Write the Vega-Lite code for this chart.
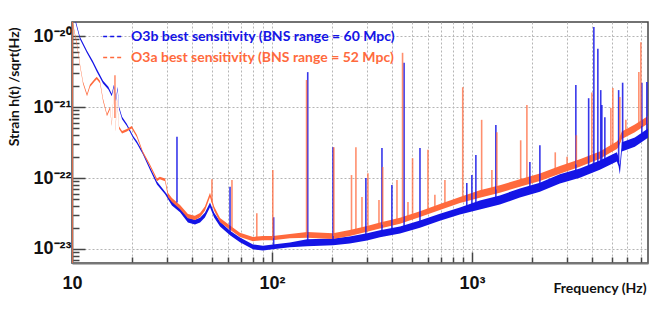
{
  "$schema": "https://vega.github.io/schema/vega-lite/v6.json",
  "width": 576,
  "height": 241,
  "autosize": {"type": "none"},
  "padding": {"left": 72, "top": 22, "right": 17, "bottom": 48},
  "background": "white",
  "config": {
    "view": {"stroke": "#444", "strokeWidth": 1.5},
    "axis": {"labelFont": "Liberation Sans", "labelFontWeight": "bold", "labelFontSize": 18, "labelColor": "#111", "titleFont": "Lato", "titleFontWeight": "bold", "titleFontSize": 14, "titleColor": "#111", "domainColor": "#777", "domainWidth": 2, "tickColor": "#444", "tickWidth": 1.5, "gridColor": "#b5b5b5", "gridDash": [2, 2], "gridWidth": 1, "labelFlush": false, "labelOverlap": false}
  },
  "datasets": {
    "floor": [
      {"run": "O3b", "f": 10.2, "lo": 1.92e-20, "hi": 2.08e-20},
      {"run": "O3b", "f": 10.96, "lo": 9.0e-21, "hi": 9.8e-21},
      {"run": "O3b", "f": 11.89, "lo": 5.7e-21, "hi": 6.2e-21},
      {"run": "O3b", "f": 12.7, "lo": 4.1e-21, "hi": 4.5e-21},
      {"run": "O3b", "f": 13.3, "lo": 3.15e-21, "hi": 3.45e-21},
      {"run": "O3b", "f": 14.3, "lo": 2.15e-21, "hi": 2.35e-21},
      {"run": "O3b", "f": 15.2, "lo": 1.77e-21, "hi": 1.93e-21},
      {"run": "O3b", "f": 15.8, "lo": 1.42e-21, "hi": 1.54e-21},
      {"run": "O3b", "f": 16.2, "lo": 1.9e-21, "hi": 2.06e-21},
      {"run": "O3b", "f": 16.6, "lo": 1.21e-21, "hi": 1.31e-21},
      {"run": "O3b", "f": 16.9, "lo": 1.77e-21, "hi": 1.93e-21},
      {"run": "O3b", "f": 17.2, "lo": 9.3e-22, "hi": 1.01e-21},
      {"run": "O3b", "f": 17.8, "lo": 6.7e-22, "hi": 7.3e-22},
      {"run": "O3b", "f": 18.8, "lo": 5.4e-22, "hi": 5.8e-22},
      {"run": "O3b", "f": 20.2, "lo": 3.65e-22, "hi": 3.95e-22},
      {"run": "O3b", "f": 21.1, "lo": 3.07e-22, "hi": 3.33e-22},
      {"run": "O3b", "f": 22.6, "lo": 2.16e-22, "hi": 2.34e-22},
      {"run": "O3b", "f": 24.5, "lo": 1.32e-22, "hi": 1.44e-22},
      {"run": "O3b", "f": 26.6, "lo": 8.1e-23, "hi": 8.9e-23},
      {"run": "O3b", "f": 29.2, "lo": 5.9e-23, "hi": 6.4e-23},
      {"run": "O3b", "f": 31.6, "lo": 4.1e-23, "hi": 4.8e-23},
      {"run": "O3b", "f": 34.7, "lo": 3.28e-23, "hi": 3.82e-23},
      {"run": "O3b", "f": 38.0, "lo": 2.37e-23, "hi": 2.76e-23},
      {"run": "O3b", "f": 41.2, "lo": 2.22e-23, "hi": 2.59e-23},
      {"run": "O3b", "f": 43.7, "lo": 2.37e-23, "hi": 2.76e-23},
      {"run": "O3b", "f": 46.2, "lo": 2.78e-23, "hi": 3.24e-23},
      {"run": "O3b", "f": 49.0, "lo": 3.86e-23, "hi": 4.5e-23},
      {"run": "O3b", "f": 51.4, "lo": 2.78e-23, "hi": 3.24e-23},
      {"run": "O3b", "f": 55.0, "lo": 2.08e-23, "hi": 2.43e-23},
      {"run": "O3b", "f": 61.7, "lo": 1.56e-23, "hi": 1.81e-23},
      {"run": "O3b", "f": 69.2, "lo": 1.24e-23, "hi": 1.45e-23},
      {"run": "O3b", "f": 80.4, "lo": 9.9e-24, "hi": 1.16e-23},
      {"run": "O3b", "f": 90.2, "lo": 9.5e-24, "hi": 1.11e-23},
      {"run": "O3b", "f": 101, "lo": 9.9e-24, "hi": 1.16e-23},
      {"run": "O3b", "f": 123, "lo": 1.06e-23, "hi": 1.23e-23},
      {"run": "O3b", "f": 150, "lo": 1.09e-23, "hi": 1.37e-23},
      {"run": "O3b", "f": 202, "lo": 1.125e-23, "hi": 1.41e-23},
      {"run": "O3b", "f": 245, "lo": 1.2e-23, "hi": 1.5e-23},
      {"run": "O3b", "f": 299, "lo": 1.32e-23, "hi": 1.66e-23},
      {"run": "O3b", "f": 347, "lo": 1.46e-23, "hi": 1.83e-23},
      {"run": "O3b", "f": 437, "lo": 1.65e-23, "hi": 2.07e-23},
      {"run": "O3b", "f": 550, "lo": 2.0e-23, "hi": 2.52e-23},
      {"run": "O3b", "f": 692, "lo": 2.5e-23, "hi": 3.14e-23},
      {"run": "O3b", "f": 871, "lo": 3.06e-23, "hi": 3.84e-23},
      {"run": "O3b", "f": 1096, "lo": 3.6e-23, "hi": 4.84e-23},
      {"run": "O3b", "f": 1380, "lo": 4.22e-23, "hi": 5.68e-23},
      {"run": "O3b", "f": 1738, "lo": 5.3e-23, "hi": 7.13e-23},
      {"run": "O3b", "f": 2188, "lo": 6.38e-23, "hi": 8.58e-23},
      {"run": "O3b", "f": 2754, "lo": 8.36e-23, "hi": 1.125e-22},
      {"run": "O3b", "f": 3467, "lo": 1.01e-22, "hi": 1.36e-22},
      {"run": "O3b", "f": 4365, "lo": 1.31e-22, "hi": 1.76e-22},
      {"run": "O3b", "f": 5309, "lo": 1.71e-22, "hi": 2.3e-22},
      {"run": "O3b", "f": 5420, "lo": 1.45e-22, "hi": 1.95e-22},
      {"run": "O3b", "f": 5495, "lo": 1.12e-22, "hi": 1.51e-22},
      {"run": "O3b", "f": 5623, "lo": 2.36e-22, "hi": 3.18e-22},
      {"run": "O3b", "f": 6531, "lo": 2.76e-22, "hi": 3.71e-22},
      {"run": "O3b", "f": 7600, "lo": 3.7e-22, "hi": 4.99e-22},
      {"run": "O3a", "f": 10.05, "lo": 1.54e-20, "hi": 1.66e-20},
      {"run": "O3a", "f": 10.6, "lo": 7.2e-21, "hi": 7.8e-21},
      {"run": "O3a", "f": 10.96, "lo": 3.75e-21, "hi": 4.05e-21},
      {"run": "O3a", "f": 11.35, "lo": 2.12e-21, "hi": 2.29e-21},
      {"run": "O3a", "f": 11.89, "lo": 1.42e-21, "hi": 1.54e-21},
      {"run": "O3a", "f": 12.3, "lo": 1.92e-21, "hi": 2.08e-21},
      {"run": "O3a", "f": 13.0, "lo": 2.31e-21, "hi": 2.5e-21},
      {"run": "O3a", "f": 13.3, "lo": 2.46e-21, "hi": 2.66e-21},
      {"run": "O3a", "f": 13.8, "lo": 2.16e-21, "hi": 2.34e-21},
      {"run": "O3a", "f": 14.3, "lo": 1.21e-21, "hi": 1.31e-21},
      {"run": "O3a", "f": 14.96, "lo": 7.4e-22, "hi": 8.0e-22},
      {"run": "O3a", "f": 15.5, "lo": 9.3e-22, "hi": 1.01e-21},
      {"run": "O3a", "f": 15.8, "lo": 5.4e-22, "hi": 5.8e-22},
      {"run": "O3a", "f": 16.2, "lo": 1.66e-21, "hi": 1.8e-21},
      {"run": "O3a", "f": 16.5, "lo": 4.5e-22, "hi": 4.9e-22},
      {"run": "O3a", "f": 16.8, "lo": 1.21e-21, "hi": 1.31e-21},
      {"run": "O3a", "f": 17.2, "lo": 4.9e-22, "hi": 5.3e-22},
      {"run": "O3a", "f": 17.8, "lo": 4.23e-22, "hi": 4.58e-22},
      {"run": "O3a", "f": 18.8, "lo": 4.5e-22, "hi": 4.9e-22},
      {"run": "O3a", "f": 19.9, "lo": 5.0e-22, "hi": 5.4e-22},
      {"run": "O3a", "f": 21.1, "lo": 3.75e-22, "hi": 4.05e-22},
      {"run": "O3a", "f": 22.6, "lo": 2.21e-22, "hi": 2.39e-22},
      {"run": "O3a", "f": 24.5, "lo": 1.46e-22, "hi": 1.58e-22},
      {"run": "O3a", "f": 26.6, "lo": 9.0e-23, "hi": 9.8e-23},
      {"run": "O3a", "f": 27.5, "lo": 9.6e-23, "hi": 1.04e-22},
      {"run": "O3a", "f": 29.2, "lo": 9.0e-23, "hi": 9.8e-23},
      {"run": "O3a", "f": 30.2, "lo": 5.4e-23, "hi": 6.2e-23},
      {"run": "O3a", "f": 31.6, "lo": 4.58e-23, "hi": 5.24e-23},
      {"run": "O3a", "f": 34.7, "lo": 3.64e-23, "hi": 4.17e-23},
      {"run": "O3a", "f": 38.0, "lo": 2.71e-23, "hi": 3.1e-23},
      {"run": "O3a", "f": 41.2, "lo": 2.57e-23, "hi": 2.94e-23},
      {"run": "O3a", "f": 43.7, "lo": 2.8e-23, "hi": 3.21e-23},
      {"run": "O3a", "f": 46.2, "lo": 3.46e-23, "hi": 3.96e-23},
      {"run": "O3a", "f": 49.0, "lo": 5.4e-23, "hi": 6.2e-23},
      {"run": "O3a", "f": 51.4, "lo": 3.46e-23, "hi": 3.96e-23},
      {"run": "O3a", "f": 55.0, "lo": 2.39e-23, "hi": 2.74e-23},
      {"run": "O3a", "f": 61.7, "lo": 1.87e-23, "hi": 2.14e-23},
      {"run": "O3a", "f": 69.2, "lo": 1.48e-23, "hi": 1.69e-23},
      {"run": "O3a", "f": 80.4, "lo": 1.29e-23, "hi": 1.48e-23},
      {"run": "O3a", "f": 90.2, "lo": 1.33e-23, "hi": 1.52e-23},
      {"run": "O3a", "f": 101, "lo": 1.33e-23, "hi": 1.52e-23},
      {"run": "O3a", "f": 123, "lo": 1.42e-23, "hi": 1.63e-23},
      {"run": "O3a", "f": 150, "lo": 1.44e-23, "hi": 1.74e-23},
      {"run": "O3a", "f": 202, "lo": 1.38e-23, "hi": 1.67e-23},
      {"run": "O3a", "f": 245, "lo": 1.53e-23, "hi": 1.85e-23},
      {"run": "O3a", "f": 299, "lo": 1.75e-23, "hi": 2.11e-23},
      {"run": "O3a", "f": 347, "lo": 1.95e-23, "hi": 2.37e-23},
      {"run": "O3a", "f": 437, "lo": 2.27e-23, "hi": 2.75e-23},
      {"run": "O3a", "f": 550, "lo": 2.82e-23, "hi": 3.41e-23},
      {"run": "O3a", "f": 692, "lo": 3.55e-23, "hi": 4.29e-23},
      {"run": "O3a", "f": 871, "lo": 4.45e-23, "hi": 5.39e-23},
      {"run": "O3a", "f": 1096, "lo": 5.27e-23, "hi": 6.72e-23},
      {"run": "O3a", "f": 1380, "lo": 6.19e-23, "hi": 7.91e-23},
      {"run": "O3a", "f": 1738, "lo": 7.52e-23, "hi": 9.6e-23},
      {"run": "O3a", "f": 2188, "lo": 9.1e-23, "hi": 1.16e-22},
      {"run": "O3a", "f": 2754, "lo": 1.15e-22, "hi": 1.47e-22},
      {"run": "O3a", "f": 3467, "lo": 1.44e-22, "hi": 1.84e-22},
      {"run": "O3a", "f": 4365, "lo": 1.86e-22, "hi": 2.37e-22},
      {"run": "O3a", "f": 5309, "lo": 2.57e-22, "hi": 3.28e-22},
      {"run": "O3a", "f": 5420, "lo": 2.74e-22, "hi": 3.5e-22},
      {"run": "O3a", "f": 5623, "lo": 3.54e-22, "hi": 4.52e-22},
      {"run": "O3a", "f": 6531, "lo": 4.42e-22, "hi": 5.65e-22},
      {"run": "O3a", "f": 7600, "lo": 5.84e-22, "hi": 7.46e-22}
    ],
    "spikes": [
      {"run": "O3b", "f": 33.5, "lo": 4.5e-23, "hi": 3.8e-22},
      {"run": "O3b", "f": 61.7, "lo": 1.7e-23, "hi": 7.5e-23},
      {"run": "O3b", "f": 102, "lo": 1.07e-23, "hi": 2.8e-23},
      {"run": "O3b", "f": 151, "lo": 1.22e-23, "hi": 3.1e-21},
      {"run": "O3b", "f": 202, "lo": 1.26e-23, "hi": 2.7e-22},
      {"run": "O3b", "f": 295, "lo": 1.48e-23, "hi": 1.0e-22},
      {"run": "O3b", "f": 355, "lo": 1.63e-23, "hi": 2.65e-22},
      {"run": "O3b", "f": 398, "lo": 1.7e-23, "hi": 8.0e-23},
      {"run": "O3b", "f": 458, "lo": 1.9e-23, "hi": 4.2e-21},
      {"run": "O3b", "f": 550, "lo": 2.25e-23, "hi": 2.65e-22},
      {"run": "O3b", "f": 943, "lo": 3.6e-23, "hi": 8.5e-23},
      {"run": "O3b", "f": 1000, "lo": 3.8e-23, "hi": 1.1e-22},
      {"run": "O3b", "f": 1047, "lo": 4.0e-23, "hi": 2.1e-22},
      {"run": "O3b", "f": 1318, "lo": 4.7e-23, "hi": 5.6e-22},
      {"run": "O3b", "f": 1950, "lo": 6.7e-23, "hi": 1.68e-22},
      {"run": "O3b", "f": 2188, "lo": 7.4e-23, "hi": 2.9e-22},
      {"run": "O3b", "f": 3311, "lo": 1.12e-22, "hi": 2.04e-21},
      {"run": "O3b", "f": 3837, "lo": 1.3e-22, "hi": 1.33e-21},
      {"run": "O3b", "f": 4074, "lo": 1.4e-22, "hi": 1.34e-20},
      {"run": "O3b", "f": 4266, "lo": 1.48e-22, "hi": 6.6e-21},
      {"run": "O3b", "f": 4410, "lo": 1.52e-22, "hi": 1.73e-21},
      {"run": "O3b", "f": 4467, "lo": 1.55e-22, "hi": 1.07e-21},
      {"run": "O3b", "f": 4624, "lo": 1.6e-22, "hi": 7.2e-22},
      {"run": "O3b", "f": 5420, "lo": 1.7e-22, "hi": 1.73e-21},
      {"run": "O3b", "f": 5675, "lo": 2.76e-22, "hi": 2.2e-21},
      {"run": "O3b", "f": 7080, "lo": 3.6e-22, "hi": 2.2e-21},
      {"run": "O3b", "f": 7500, "lo": 4.2e-22, "hi": 2.25e-21},
      {"run": "O3a", "f": 10.02, "lo": 1e-24, "hi": 1e-19},
      {"run": "O3a", "f": 16.4, "lo": 7e-22, "hi": 2.8e-21},
      {"run": "O3a", "f": 50.1, "lo": 4.5e-23, "hi": 9.6e-23},
      {"run": "O3a", "f": 63.1, "lo": 2e-23, "hi": 9.4e-23},
      {"run": "O3a", "f": 84, "lo": 1.38e-23, "hi": 3.2e-23},
      {"run": "O3a", "f": 101, "lo": 1.42e-23, "hi": 1.3e-22},
      {"run": "O3a", "f": 149, "lo": 1.58e-23, "hi": 2.4e-21},
      {"run": "O3a", "f": 204, "lo": 1.52e-23, "hi": 2.7e-22},
      {"run": "O3a", "f": 250, "lo": 1.7e-23, "hi": 1.1e-22},
      {"run": "O3a", "f": 263, "lo": 1.75e-23, "hi": 2.7e-22},
      {"run": "O3a", "f": 282, "lo": 1.85e-23, "hi": 5.4e-23},
      {"run": "O3a", "f": 302, "lo": 1.92e-23, "hi": 1.17e-22},
      {"run": "O3a", "f": 343, "lo": 2.1e-23, "hi": 4.9e-23},
      {"run": "O3a", "f": 358, "lo": 2.2e-23, "hi": 1.43e-22},
      {"run": "O3a", "f": 422, "lo": 2.45e-23, "hi": 9.4e-23},
      {"run": "O3a", "f": 450, "lo": 2.5e-23, "hi": 5.8e-21},
      {"run": "O3a", "f": 479, "lo": 2.6e-23, "hi": 4.6e-23},
      {"run": "O3a", "f": 505, "lo": 2.8e-23, "hi": 1.9e-22},
      {"run": "O3a", "f": 603, "lo": 3.3e-23, "hi": 2.5e-22},
      {"run": "O3a", "f": 653, "lo": 3.6e-23, "hi": 5.8e-23},
      {"run": "O3a", "f": 733, "lo": 4.1e-23, "hi": 9.4e-23},
      {"run": "O3a", "f": 900, "lo": 5.0e-23, "hi": 1.9e-21},
      {"run": "O3a", "f": 1119, "lo": 6.0e-23, "hi": 6.6e-22},
      {"run": "O3a", "f": 1259, "lo": 6.6e-23, "hi": 1.3e-22},
      {"run": "O3a", "f": 1333, "lo": 6.9e-23, "hi": 4.4e-22},
      {"run": "O3a", "f": 1754, "lo": 8.5e-23, "hi": 3.4e-22},
      {"run": "O3a", "f": 1884, "lo": 9.0e-23, "hi": 1.07e-21},
      {"run": "O3a", "f": 2612, "lo": 1.23e-22, "hi": 2.3e-22},
      {"run": "O3a", "f": 2992, "lo": 1.4e-22, "hi": 2.0e-22},
      {"run": "O3a", "f": 3330, "lo": 1.55e-22, "hi": 4.0e-22},
      {"run": "O3a", "f": 3981, "lo": 1.9e-22, "hi": 1.6e-21},
      {"run": "O3a", "f": 4955, "lo": 2.5e-22, "hi": 9.7e-22},
      {"run": "O3a", "f": 5070, "lo": 2.6e-22, "hi": 1.85e-21},
      {"run": "O3a", "f": 5495, "lo": 3.2e-22, "hi": 1.38e-21},
      {"run": "O3a", "f": 5888, "lo": 4.3e-22, "hi": 6.6e-22},
      {"run": "O3a", "f": 6839, "lo": 5.2e-22, "hi": 3.1e-21},
      {"run": "O3a", "f": 7000, "lo": 5.4e-22, "hi": 8.2e-21}
    ]
  },
  "encoding": {
    "x": {
      "field": "f", "type": "quantitative",
      "scale": {"type": "log", "domain": [10, 7600], "nice": false},
      "axis": {
        "title": "Frequency (Hz)",
        "values": [10, 20, 30, 40, 50, 60, 70, 80, 90, 100, 200, 300, 400, 500, 600, 700, 800, 900, 1000, 2000, 3000, 4000, 5000, 6000, 7000],
        "labelExpr": "datum.value == 10 ? '10' : datum.value == 100 ? '10²' : datum.value == 1000 ? '10³' : ''",
        "grid": true,
        "tickSize": {"condition": {"test": "datum.value == 10 || datum.value == 100 || datum.value == 1000", "value": -11}, "value": -6},
        "labelPadding": 22,
        "titleX": 574, "titleY": 25, "titleAlign": "right", "titleBaseline": "middle", "titleAngle": 0
      }
    },
    "y": {
      "field": "lo", "type": "quantitative",
      "scale": {"type": "log", "domain": [6.35e-24, 1.575e-20], "nice": false},
      "axis": {
        "title": "Strain h(t) /sqrt(Hz)",
        "values": [7e-24, 8e-24, 9e-24, 1e-23, 2e-23, 3e-23, 4e-23, 5e-23, 6e-23, 7e-23, 8e-23, 9e-23, 1e-22, 2e-22, 3e-22, 4e-22, 5e-22, 6e-22, 7e-22, 8e-22, 9e-22, 1e-21, 2e-21, 3e-21, 4e-21, 5e-21, 6e-21, 7e-21, 8e-21, 9e-21, 1e-20],
        "labelExpr": "abs(datum.value/1e-20 - 1) < 0.01 ? '10⁻²⁰' : abs(datum.value/1e-21 - 1) < 0.01 ? '10⁻²¹' : abs(datum.value/1e-22 - 1) < 0.01 ? '10⁻²²' : abs(datum.value/1e-23 - 1) < 0.01 ? '10⁻²³' : ''",
        "grid": true,
        "gridOpacity": {"condition": {"test": "abs(log(datum.value)/LN10 - round(log(datum.value)/LN10)) < 0.01", "value": 1}, "value": 0},
        "tickSize": {"condition": {"test": "abs(log(datum.value)/LN10 - round(log(datum.value)/LN10)) < 0.01", "value": -13}, "value": -7},
        "labelPadding": 14,
        "titleX": -58, "titleY": 5, "titleAlign": "right", "titleBaseline": "middle", "titleAngle": -90
      }
    },
    "y2": {"field": "hi"}
  },
  "layer": [
    {
      "data": {"name": "floor"},
      "transform": [{"filter": "datum.run == 'O3b'"}],
      "mark": {"type": "area", "clip": true, "color": "#1414e6"}
    },
    {
      "data": {"name": "floor"},
      "transform": [{"filter": "datum.run == 'O3a'"}],
      "mark": {"type": "area", "clip": true, "color": "#ff6a3d"}
    },
    {
      "data": {"name": "spikes"},
      "mark": {"type": "rule", "clip": true, "strokeWidth": 1.6},
      "encoding": {
        "stroke": {
          "field": "run", "type": "nominal",
          "scale": {"domain": ["O3b", "O3a"], "range": ["#1414e6", "#ff6a3d"]},
          "legend": {
            "title": null, "orient": "none", "legendX": 30, "legendY": 4,
            "labelExpr": "datum.value == 'O3b' ? 'O3b best sensitivity (BNS range = 60 Mpc)' : 'O3a best sensitivity (BNS range = 52 Mpc)'",
            "labelFont": "Lato", "labelFontWeight": "bold", "labelFontSize": 14, "labelLimit": 500, "labelOffset": 8,
            "symbolType": "stroke", "symbolSize": 350, "symbolDash": [4, 3], "symbolStrokeWidth": 1.5, "rowPadding": 3,
            "encode": {"labels": {"update": {"fill": {"signal": "scale('stroke', datum.value)"}}}}
          }
        },
        "strokeOpacity": {"condition": {"test": "datum.run == 'O3a'", "value": 0.75}, "value": 0.85}
      }
    }
  ]
}
